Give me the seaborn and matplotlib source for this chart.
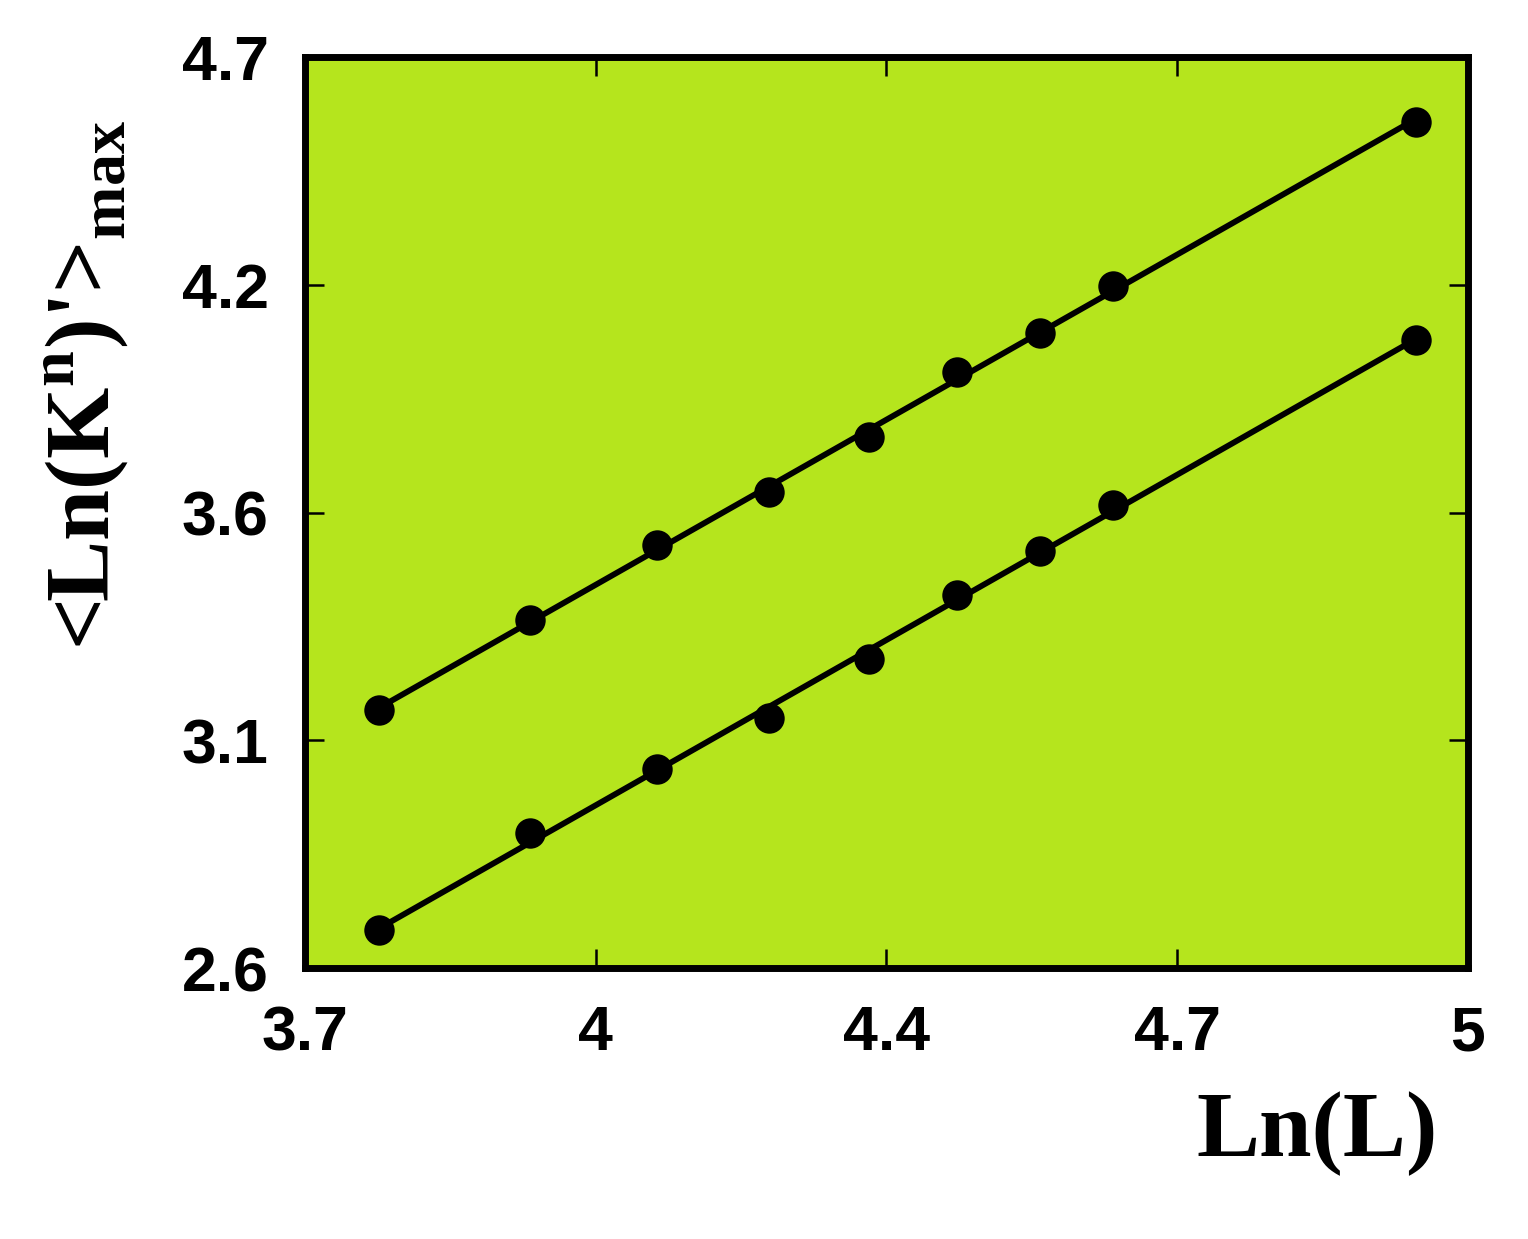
import numpy as np
import pandas as pd
import seaborn as sns
import matplotlib.pyplot as plt


# Data
ln_L = [3.783, 3.951, 4.094, 4.219, 4.331, 4.429, 4.522, 4.603, 4.942]
upper = [3.195, 3.402, 3.575, 3.697, 3.824, 3.974, 4.064, 4.172, 4.550]
lower = [2.688, 2.911, 3.059, 3.176, 3.312, 3.460, 3.561, 3.667, 4.048]

xticks = [3.7, 4.025, 4.35, 4.675, 5.0]
xticklabels = ['3.7', '4', '4.4', '4.7', '5']
yticks = [2.6, 3.125, 3.65, 4.175, 4.7]
yticklabels = ['2.6', '3.1', '3.6', '4.2', '4.7']

df = pd.DataFrame({'lnL': ln_L, 'upper': upper, 'lower': lower})

sns.set_style('ticks')
plt.rcParams['font.family'] = ['Liberation Sans', 'DejaVu Sans']
plt.rcParams['text.color'] = 'black'
plt.rcParams['xtick.color'] = 'black'
plt.rcParams['ytick.color'] = 'black'
plt.rcParams['axes.labelcolor'] = 'black'
plt.rcParams['mathtext.fontset'] = 'custom'
plt.rcParams['mathtext.rm'] = 'Liberation Serif'
plt.rcParams['mathtext.bf'] = 'Liberation Serif:bold'

fig = plt.figure(figsize=(15.28, 12.39), dpi=100)
ax = fig.add_axes([0.1996, 0.2187, 0.7611, 0.7353])
ax.set_facecolor('#b5e51d')

for col in ['upper', 'lower']:
    sns.regplot(data=df, x='lnL', y=col, ax=ax, ci=None, color='black',
                scatter_kws={'s': 480, 'alpha': 1, 'linewidths': 0},
                line_kws={'lw': 4.2})

ax.set_xlim(3.7, 5.0)
ax.set_ylim(2.6, 4.7)
ax.set_xticks(xticks)
ax.set_xticklabels(xticklabels)
ax.set_yticks(yticks)
ax.set_yticklabels(yticklabels)

for s in ax.spines.values():
    s.set_linewidth(5)
    s.set_color('black')

ax.tick_params(direction='in', length=14, width=1.8, top=True, right=True,
               labelsize=45, pad=26)
for lab in ax.get_xticklabels() + ax.get_yticklabels():
    lab.set_fontweight('bold')

ax.set_xlabel('Ln(L)', fontsize=68, fontweight='bold', family='Liberation Serif')
ax.xaxis.set_label_coords(0.87, -0.135)
ax.set_ylabel(r"<Ln(K$^{\mathbf{n}}$)'>$_{\mathbf{max}}$", fontsize=66,
              fontweight='bold', family='Liberation Serif')
ax.yaxis.set_label_coords(-0.15, 0.64)

fig.savefig('out.png', dpi=100)
